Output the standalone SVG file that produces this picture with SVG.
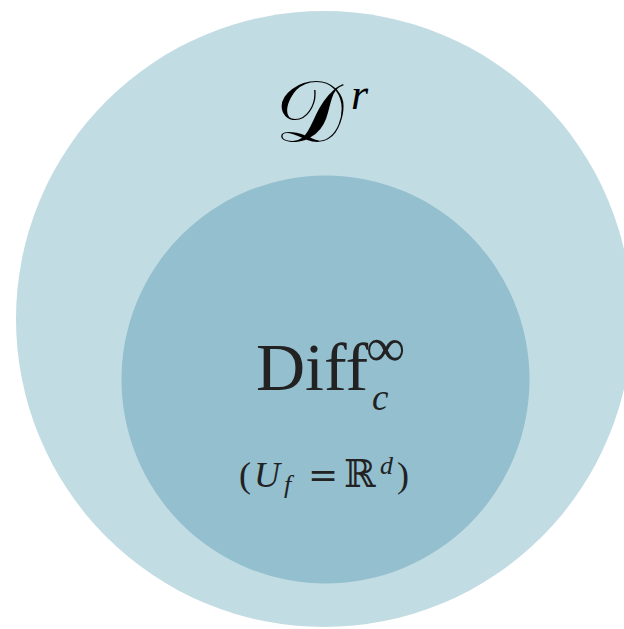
<svg xmlns="http://www.w3.org/2000/svg" width="624" height="629" viewBox="0 0 624 629">
<style>
.outer{fill:#c2dce3}
.inner{fill:#93bfcf}
.m{font-family:"Liberation Serif","DejaVu Serif",serif;fill:#222}
.dv{font-family:"DejaVu Serif","Liberation Serif",serif}
.i{font-style:italic}
</style>
<rect width="624" height="629" fill="#ffffff"/>
<g id="outer-set">
<circle class="outer" cx="324" cy="319" r="308"/>
<text class="m" x="275" y="141" font-size="86" style="fill:#000"><tspan class="dv">𝒟</tspan><tspan x="351" y="109" font-size="44" style="font-family:'Liberation Serif',serif;font-style:italic">r</tspan></text>
</g>
<g id="inner-set">
<circle class="inner" cx="325.5" cy="379.5" r="204"/>
<text class="m" x="256" y="390" font-size="68">Diff<tspan x="366" y="366" font-size="55">∞</tspan><tspan class="i" x="372" y="410" font-size="37">c</tspan></text>
<text class="m" x="239" y="487" font-size="36">(<tspan class="i" x="254">U</tspan><tspan class="i" x="284" y="493" font-size="26">f</tspan><tspan class="dv" x="308" y="487" font-size="36">=</tspan><tspan class="dv" x="344" y="487" font-size="38">ℝ</tspan><tspan class="i" x="380" y="474" font-size="26">d</tspan><tspan x="397" y="487">)</tspan></text>
</g>
</svg>
